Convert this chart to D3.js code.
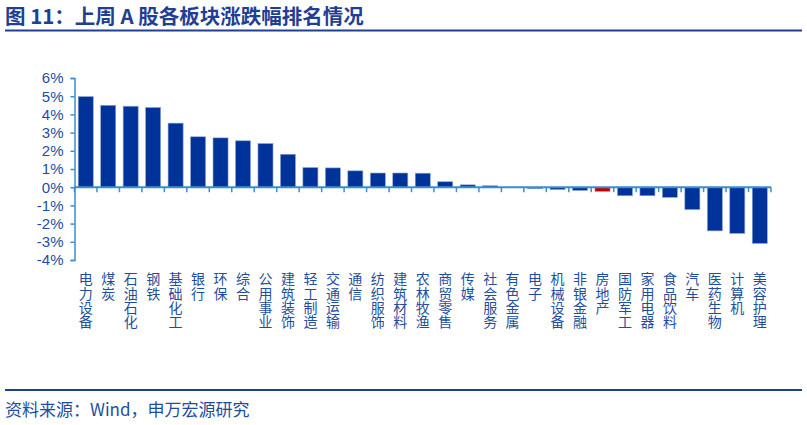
<!DOCTYPE html>
<html><head><meta charset="utf-8">
<script src="https://cdn.jsdelivr.net/npm/d3@7"></script>
<style>
html,body{margin:0;padding:0;background:#fff;}
svg{display:block;}
</style></head>
<body>
<svg id="c" width="807" height="425"></svg>
<script>
const categories = ["电力设备","煤炭","石油石化","钢铁","基础化工","银行","环保","综合","公用事业","建筑装饰","轻工制造","交通运输","通信","纺织服饰","建筑材料","农林牧渔","商贸零售","传媒","社会服务","有色金属","电子","机械设备","非银金融","房地产","国防军工","家用电器","食品饮料","汽车","医药生物","计算机","美容护理"];
const values = [4.98,4.50,4.45,4.38,3.52,2.77,2.71,2.55,2.40,1.81,1.08,1.06,0.90,0.78,0.78,0.77,0.30,0.13,0.08,-0.02,-0.08,-0.13,-0.18,-0.23,-0.47,-0.47,-0.56,-1.23,-2.40,-2.54,-3.09];
const highlight = ["房地产"];
const yTicks = [6,5,4,3,2,1,0,-1,-2,-3,-4];
const titleText = "图 11：上周 A 股各板块涨跌幅排名情况";
const sourceText = "资料来源：Wind，申万宏源研究";

const svg = d3.select("#c");
const navy = "#1F3F95";
const textBlue = "#1F4E9E";
const axisBlue = "#3A8DD0";
const barBlue = "#003399";
const barRed = "#C00000";
const cjk = "'Noto Sans CJK SC','Noto Sans',sans-serif";
const latin = "'Liberation Sans',Arial,sans-serif";

// title
svg.append("text").attr("x",5).attr("y",24)
  .attr("font-family",cjk).attr("font-weight","bold").attr("font-size",20.5)
  .attr("fill",navy).text(titleText);
svg.append("line").attr("x1",5).attr("x2",802).attr("y1",30.5).attr("y2",30.5)
  .attr("stroke",navy).attr("stroke-width",2);

// footer
svg.append("line").attr("x1",5).attr("x2",802).attr("y1",390).attr("y2",390)
  .attr("stroke",navy).attr("stroke-width",2);
svg.append("text").attr("x",5).attr("y",416)
  .attr("font-family",cjk).attr("font-size",17)
  .attr("fill",textBlue).text(sourceText);

const x = d3.scaleBand().domain(categories).range([74.5,771]).paddingInner(0.33).paddingOuter(0.165);
const y = d3.scaleLinear().domain([-4,6]).range([260,78]);

// bars
svg.append("g").selectAll("rect").data(categories).join("rect")
  .attr("x",d=>x(d))
  .attr("width",x.bandwidth())
  .attr("y",(d,i)=>y(Math.max(0,values[i])))
  .attr("height",(d,i)=>Math.abs(y(values[i])-y(0)))
  .attr("fill",d=>highlight.includes(d)?barRed:barBlue)
  .attr("stroke",d=>highlight.includes(d)?"#e08080":"#8fa6d8")
  .attr("stroke-width",0.6);

// y axis
const yAxis = svg.append("g").attr("transform","translate(74.5,0)")
  .call(d3.axisLeft(y).tickValues(yTicks).tickFormat(d=>d+"%").tickSize(4).tickPadding(7));
yAxis.select(".domain").attr("stroke",axisBlue).attr("stroke-width",1.5);
yAxis.selectAll(".tick line").attr("stroke",axisBlue).attr("stroke-width",1.5);
yAxis.selectAll(".tick text").attr("font-family",latin).attr("font-size",15).attr("fill",textBlue);

// x axis at zero
const step = x.step();
const x0 = x.range()[0];
const boundaries = categories.map((d,i)=>x0+i*step).concat([x.range()[1]]);
svg.append("line").attr("x1",x0).attr("x2",x.range()[1]).attr("y1",y(0)).attr("y2",y(0))
  .attr("stroke",axisBlue).attr("stroke-width",2);
svg.append("g").selectAll("line").data(boundaries).join("line")
  .attr("x1",d=>d).attr("x2",d=>d).attr("y1",y(0)).attr("y2",y(0)+5)
  .attr("stroke",axisBlue).attr("stroke-width",1.5);

// vertical category labels
svg.append("g").selectAll("text").data(categories).join("text")
  .attr("font-family",cjk).attr("font-size",14).attr("fill",textBlue)
  .style("writing-mode","vertical-rl")
  .style("text-orientation","upright")
  .style("letter-spacing","0.2px")
  .attr("text-anchor","start")
  .attr("x",d=>x(d)+x.bandwidth()/2)
  .attr("y",272)
  .text(d=>d);
</script>
</body></html>
